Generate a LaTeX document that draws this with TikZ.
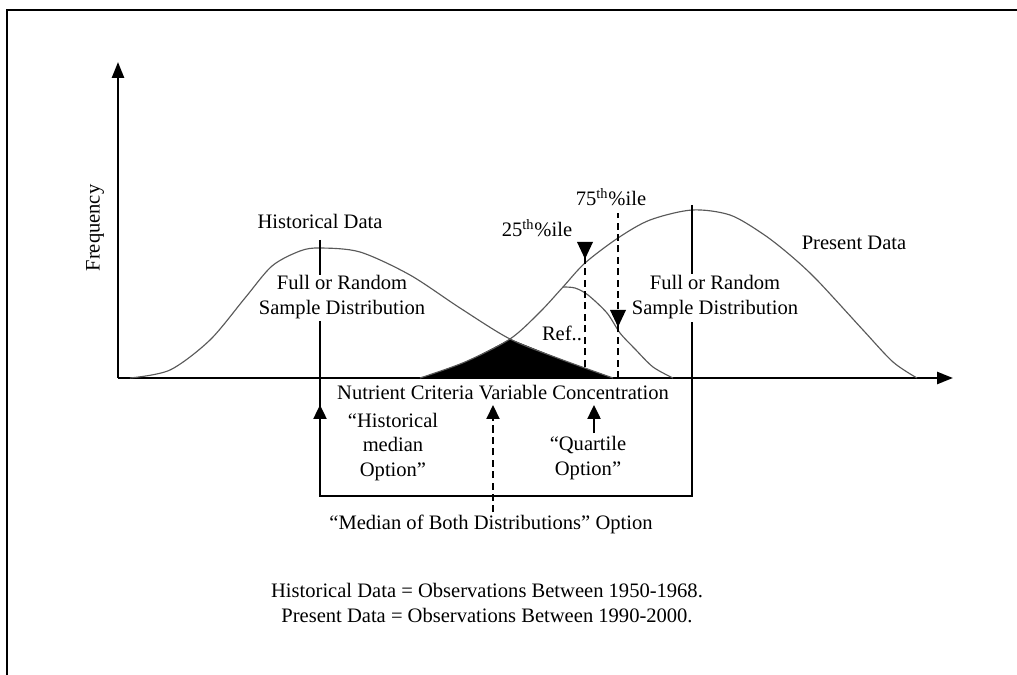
\documentclass[tikz,border=0pt]{standalone}
\usepackage{fontspec}
\setmainfont{Liberation Serif}
\usetikzlibrary{arrows.meta}

\begin{document}
\begin{tikzpicture}[
    x=0.02cm, y=-0.02cm,
    every node/.style={font=\fontsize{11.7}{13.8}\selectfont, align=center, inner sep=1pt},
    axis/.style={line width=1.4pt, -{Triangle[length=0.32cm, width=0.24cm]}},
    curve/.style={line width=0.65pt, black!65},
    median/.style={line width=1.4pt},
    pctile/.style={line width=1.2pt, dash pattern=on 4pt off 2.5pt},
    tip/.style={-{Triangle[length=0.28cm, width=0.26cm]}}
]
    \useasboundingbox (0,0) rectangle (1017,675);
    \draw[line width=1.4pt] (7,675) -- (7,10) -- (1017,10);

    % axes
    \coordinate (o) at (118,378);
    \coordinate (ytop) at (118,62);
    \coordinate (xend) at (953,378);
    \draw[axis] (o) -- (ytop);
    \draw[axis] (o) -- (xend);
    \node[rotate=90] (freq) at (95,228) {Frequency};

    % overlap of both distributions
    \fill[black] plot[smooth] coordinates {(420,378) (465,362) (510,339)}
        -- (560,359) -- (613,378) -- cycle;

    % distributions
    \draw[curve] plot[smooth] coordinates {(130,378) (170,370) (210,340) (245,298)
        (272,266) (300,251) (320,248) (360,252) (410,275) (460,308) (510,339)
        (560,359) (613,378)};
    \draw[curve] plot[smooth] coordinates {(420,378) (465,362) (510,339) (540,312)
        (563,287) (585,263) (618,238) (650,220) (692,210) (730,215) (763,234)
        (790,255) (817,280) (863,330) (893,362) (917,378)};
    \draw[curve] plot[smooth] coordinates {(563,287) (575,288) (588,295) (607,313)
        (620,333) (635,349) (653,367) (673,378)};
    \node (ref) at (562,333) {Ref..};

    % medians and option box
    \coordinate (hmtop) at (320,240);
    \coordinate (pmtop) at (692,205);
    \coordinate (bl) at (320,496);
    \coordinate (br) at (692,496);
    \draw[median] (hmtop) -- (320,275);
    \draw[median] (pmtop) -- (692,274);
    \draw[median] (320,321) -- (bl) -- (br) -- (692,322);
    \draw[median, tip] (bl) -- (320,405);
    \node (hfull) at (342,297) {Full or Random\\Sample Distribution};
    \node (pfull) at (715,297) {Full or Random\\Sample Distribution};
    \node (hist) at (320,221) {Historical Data};
    \node (pres) at (854,243) {Present Data};

    % percentiles
    \coordinate (p25) at (585,378);
    \coordinate (p75) at (618,378);
    \draw[pctile] (p25) -- (585,250);
    \fill (577,242) -- (593,242) -- (585,259) -- cycle;
    \draw[pctile] (p75) -- (618,213);
    \fill (610,310) -- (626,310) -- (618,327) -- cycle;
    \node (q25) at (537,228) {25\textsuperscript{th}\%ile};
    \node (q75) at (611,197) {75\textsuperscript{th}\%ile};

    % options
    \node (conc) at (503,393) {Nutrient Criteria Variable Concentration};
    \node (hopt) at (393,447) {``Historical\\median\\Option''};
    \node (qopt) at (588,458) {``Quartile\\Option''};
    \node (mopt) at (491,524) {``Median of Both Distributions'' Option};
    \draw[line width=1.4pt, tip] (594,433) -- (594,405);
    \draw[pctile, tip] (mopt.north -| 493,0) -- (493,405);

    \node (note) at (487,603) {Historical Data = Observations Between 1950-1968.\\
        Present Data = Observations Between 1990-2000.};
\end{tikzpicture}
\end{document}
